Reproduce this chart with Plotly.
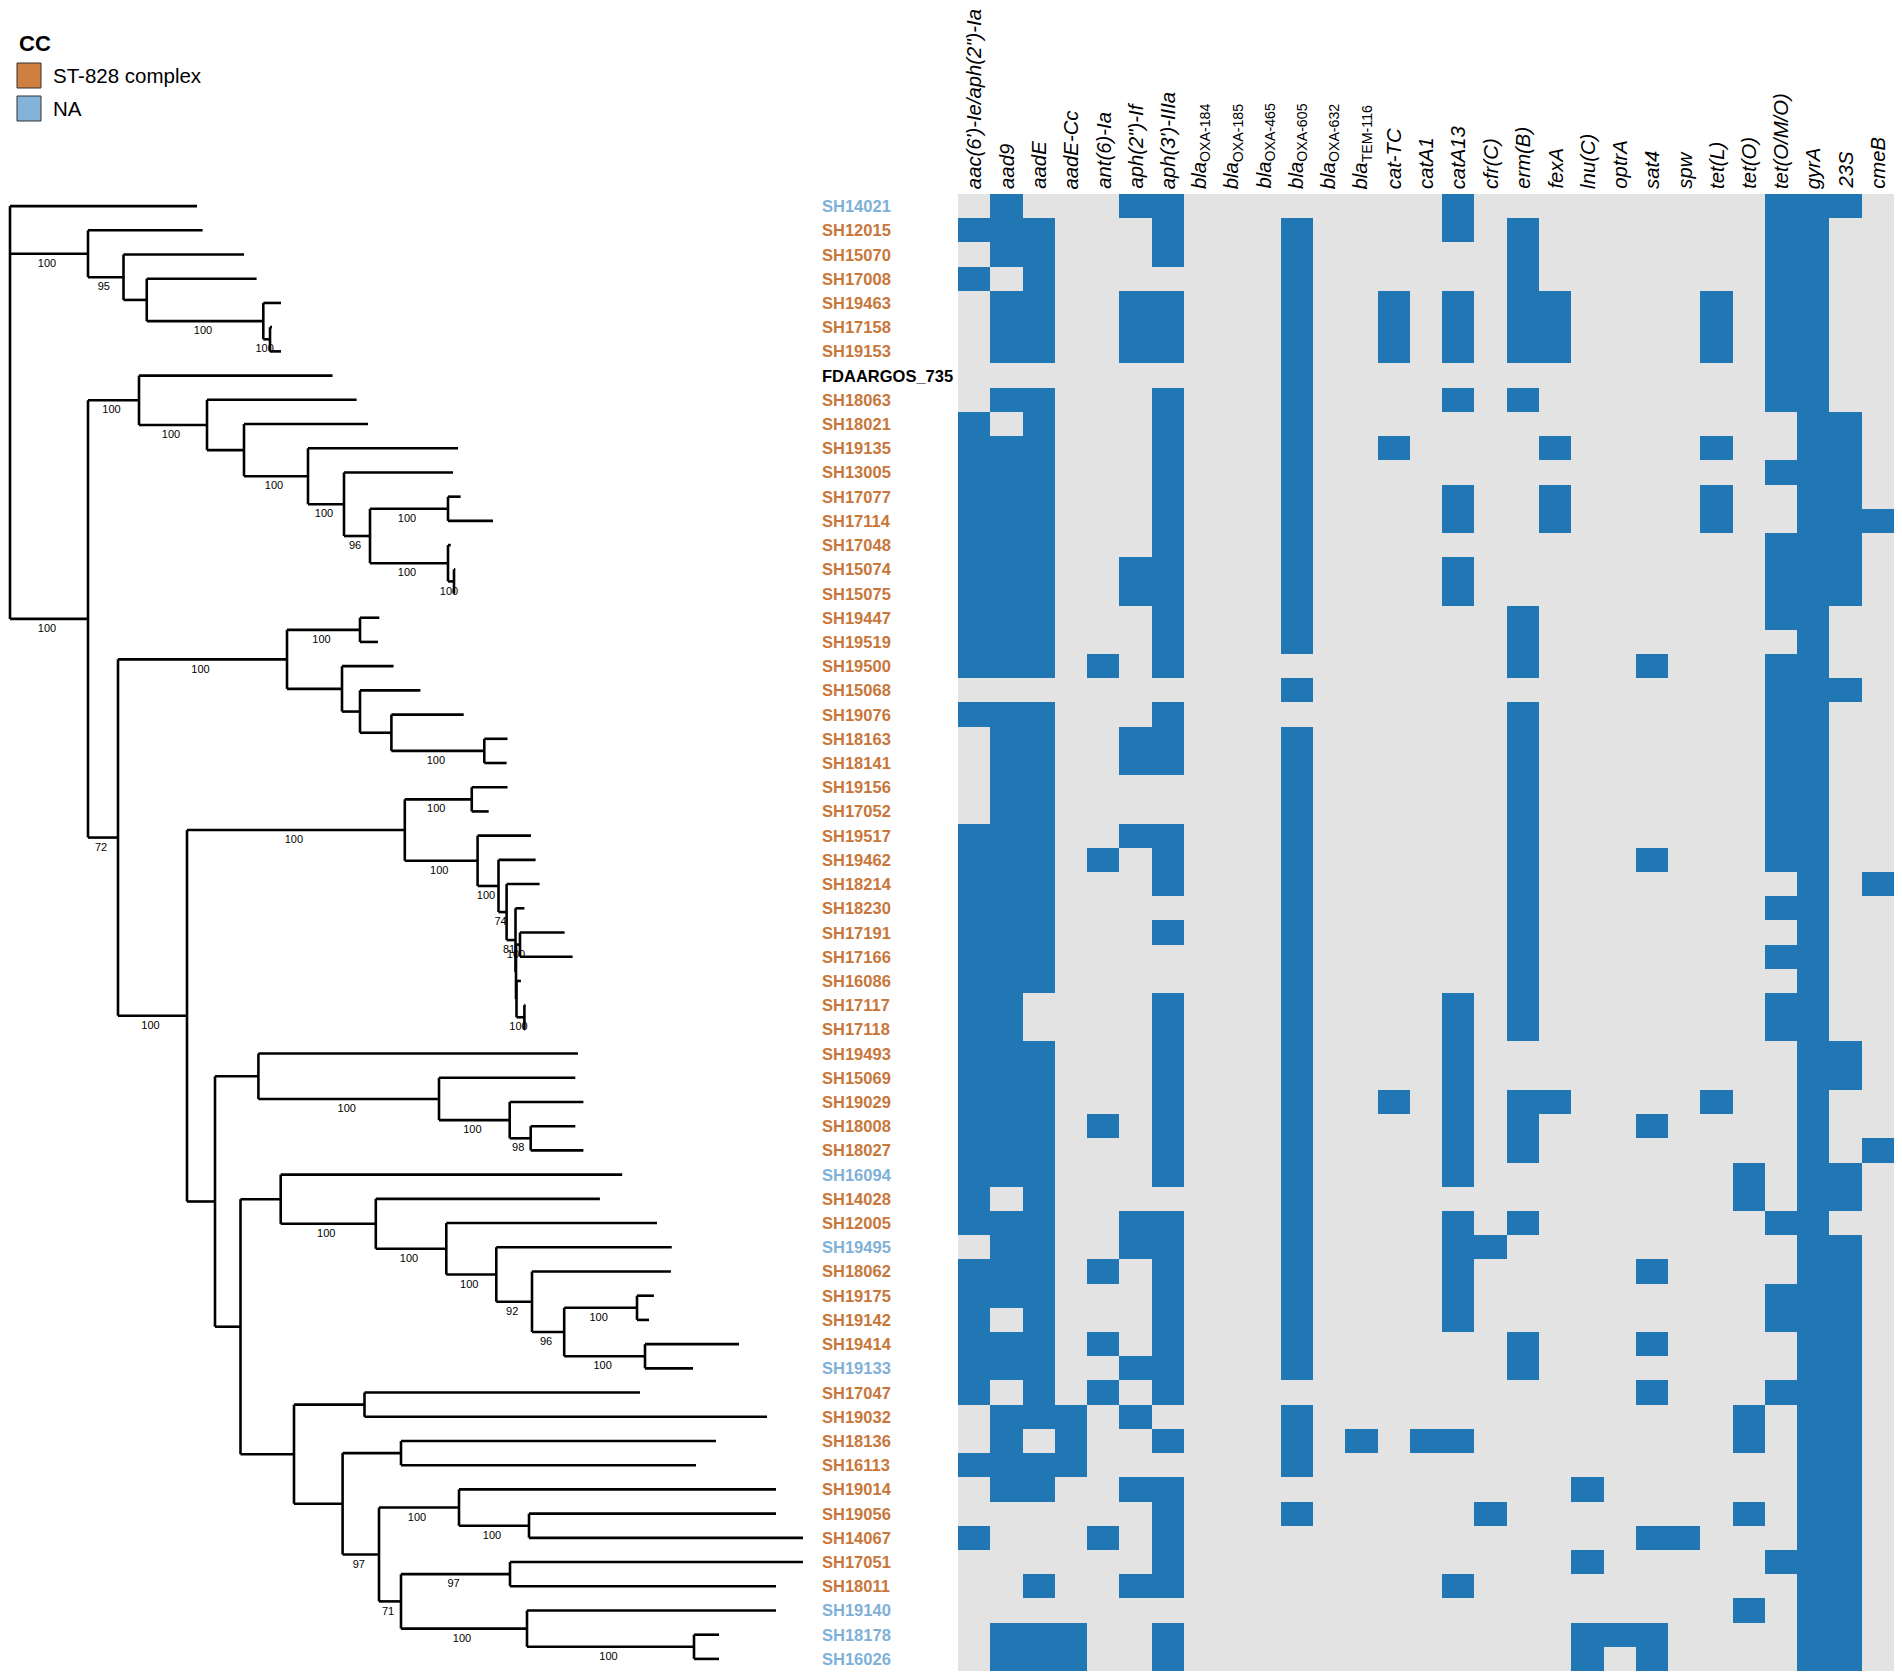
import plotly.graph_objects as go

W, H = 1902, 1679
OFF = 8                      # browser body margin
FW, FH = W - 2 * OFF, H - 2 * OFF

# ---------------- data ----------------
# Phylogeny (branch lengths in arbitrary units, internal labels = bootstrap support)
NEWICK = """
(SH14021:187,
 (SH12015:114.6,(SH15070:120.5,(SH17008:109.85,(SH19463:17.7,(SH17158:2,SH19153:11)100:6.7)100:116.55):23.25)95:35.5)100:78,
 ((FDAARGOS_735:193.5,(SH18063:149.6,(SH18021:124,(SH19135:150,(SH13005:109,((SH17077:12.6,SH17114:45)100:78,(SH17048:2.8,(SH15074:1.2,SH15075:0.5)100:6)100:78)96:26)100:36)100:64):37)100:68)100:51,
  (((SH19447:19.3,SH19519:18)100:73,(SH19500:51.6,(SH15068:60.4,(SH19076:72.3,(SH18163:23.2,SH18141:22.3)100:92.9):31.4):18):55)100:169,
   (((SH19156:35.75,SH17052:16.95)100:66.95,(SH19517:53.4,(SH19462:37.1,(SH18214:33,(SH18230:8.9,((SH17191:44.6,SH17166:52.6)100:4,(SH16086:4.4,(SH17117:1,SH17118:0.6)100:7.9):0.5):0.5)81:8.9)74:8.1)100:20.9)100:72.8)100:217.8,
    ((SH19493:319.6,(SH15069:136.3,(SH19029:73.7,(SH18008:44.6,SH18027:52.7)98:21)100:70.7)100:180.6):43.4,
     ((SH16094:341.5,(SH14028:224.1,(SH12005:210.7,(SH19495:175.45,(SH18062:138.9,((SH19175:16.9,SH19142:12)100:72.8,(SH19414:94,SH19133:48)100:80.8)96:32.2)92:35.7)100:50)100:70.5)100:95.1):40.2,
      ((SH17047:275.5,SH19032:402.5):70.5,
       ((SH18136:315,SH16113:295):58.4,
        ((SH19014:317,(SH19056:247,SH14067:274)100:70)100:80,((SH17051:293,SH18011:266)97:109,(SH19140:249,(SH18178:25,SH16026:25)100:167)100:126)71:22)97:36.4):48.6):53.5):25.5):28)100:69)72:30)100:78);
"""

ISOLATES = ["SH14021", "SH12015", "SH15070", "SH17008", "SH19463", "SH17158", "SH19153",
            "FDAARGOS_735", "SH18063", "SH18021", "SH19135", "SH13005", "SH17077", "SH17114",
            "SH17048", "SH15074", "SH15075", "SH19447", "SH19519", "SH19500", "SH15068",
            "SH19076", "SH18163", "SH18141", "SH19156", "SH17052", "SH19517", "SH19462",
            "SH18214", "SH18230", "SH17191", "SH17166", "SH16086", "SH17117", "SH17118",
            "SH19493", "SH15069", "SH19029", "SH18008", "SH18027", "SH16094", "SH14028",
            "SH12005", "SH19495", "SH18062", "SH19175", "SH19142", "SH19414", "SH19133",
            "SH17047", "SH19032", "SH18136", "SH16113", "SH19014", "SH19056", "SH14067",
            "SH17051", "SH18011", "SH19140", "SH18178", "SH16026"]

NA_ISOLATES = ["SH14021", "SH16094", "SH19495", "SH19133", "SH19140", "SH18178", "SH16026"]
REFERENCE = ["FDAARGOS_735"]

GENE_LABELS = ["<i>aac(6')-Ie/aph(2\")-Ia</i>", "<i>aad9</i>", "<i>aadE</i>", "<i>aadE-Cc</i>",
               "<i>ant(6)-Ia</i>", "<i>aph(2\")-If</i>", "<i>aph(3')-IIIa</i>",
               "<i>bla</i><sub>OXA-184</sub>", "<i>bla</i><sub>OXA-185</sub>",
               "<i>bla</i><sub>OXA-465</sub>", "<i>bla</i><sub>OXA-605</sub>",
               "<i>bla</i><sub>OXA-632</sub>", "<i>bla</i><sub>TEM-116</sub>",
               "<i>cat-TC</i>", "<i>catA1</i>", "<i>catA13</i>", "<i>cfr(C)</i>", "<i>erm(B)</i>",
               "<i>fexA</i>", "<i>lnu(C)</i>", "<i>optrA</i>", "<i>sat4</i>", "<i>spw</i>",
               "<i>tet(L)</i>", "<i>tet(O)</i>", "<i>tet(O/M/O)</i>", "<i>gyrA</i>", "<i>23S</i>",
               "<i>cmeB</i>"]

# presence (1) / absence (0) per isolate, genes in GENE_LABELS order (spaces only for reading)
PROFILE = [
    "0100011 000000 001000 000000 1110",  # SH14021
    "1110001 000100 001010 000000 1100",  # SH12015
    "0110001 000100 000010 000000 1100",  # SH15070
    "1010000 000100 000010 000000 1100",  # SH17008
    "0110011 000100 101011 000010 1100",  # SH19463
    "0110011 000100 101011 000010 1100",  # SH17158
    "0110011 000100 101011 000010 1100",  # SH19153
    "0000000 000100 000000 000000 1100",  # FDAARGOS_735
    "0110001 000100 001010 000000 1100",  # SH18063
    "1010001 000100 000000 000000 0110",  # SH18021
    "1110001 000100 100001 000010 0110",  # SH19135
    "1110001 000100 000000 000000 1110",  # SH13005
    "1110001 000100 001001 000010 0110",  # SH17077
    "1110001 000100 001001 000010 0111",  # SH17114
    "1110001 000100 000000 000000 1110",  # SH17048
    "1110011 000100 001000 000000 1110",  # SH15074
    "1110011 000100 001000 000000 1110",  # SH15075
    "1110001 000100 000010 000000 1100",  # SH19447
    "1110001 000100 000010 000000 0100",  # SH19519
    "1110101 000000 000010 001000 1100",  # SH19500
    "0000000 000100 000000 000000 1110",  # SH15068
    "1110001 000000 000010 000000 1100",  # SH19076
    "0110011 000100 000010 000000 1100",  # SH18163
    "0110011 000100 000010 000000 1100",  # SH18141
    "0110000 000100 000010 000000 1100",  # SH19156
    "0110000 000100 000010 000000 1100",  # SH17052
    "1110011 000100 000010 000000 1100",  # SH19517
    "1110101 000100 000010 001000 1100",  # SH19462
    "1110001 000100 000010 000000 0101",  # SH18214
    "1110000 000100 000010 000000 1100",  # SH18230
    "1110001 000100 000010 000000 0100",  # SH17191
    "1110000 000100 000010 000000 1100",  # SH17166
    "1110000 000100 000010 000000 0100",  # SH16086
    "1100001 000100 001010 000000 1100",  # SH17117
    "1100001 000100 001010 000000 1100",  # SH17118
    "1110001 000100 001000 000000 0110",  # SH19493
    "1110001 000100 001000 000000 0110",  # SH15069
    "1110001 000100 101011 000010 0100",  # SH19029
    "1110101 000100 001010 001000 0100",  # SH18008
    "1110001 000100 001010 000000 0101",  # SH18027
    "1110001 000100 001000 000001 0110",  # SH16094
    "1010000 000100 000000 000001 0110",  # SH14028
    "1110011 000100 001010 000000 1100",  # SH12005
    "0110011 000100 001100 000000 0110",  # SH19495
    "1110101 000100 001000 001000 0110",  # SH18062
    "1110001 000100 001000 000000 1110",  # SH19175
    "1010001 000100 001000 000000 1110",  # SH19142
    "1110101 000100 000010 001000 0110",  # SH19414
    "1110011 000100 000010 000000 0110",  # SH19133
    "1010101 000000 000000 001000 1110",  # SH17047
    "0111010 000100 000000 000001 0110",  # SH19032
    "0101001 000101 011000 000001 0110",  # SH18136
    "1111000 000100 000000 000000 0110",  # SH16113
    "0110011 000000 000000 100000 0110",  # SH19014
    "0000001 000100 000100 000001 0110",  # SH19056
    "1000101 000000 000000 001100 0110",  # SH14067
    "0000001 000000 000000 100000 1110",  # SH17051
    "0010011 000000 001000 000000 0110",  # SH18011
    "0000000 000000 000000 000001 0110",  # SH19140
    "0111001 000000 000000 111000 0110",  # SH18178
    "0111001 000000 000000 101000 0110",  # SH16026
]

CC_NAMES = ["ST-828 complex", "NA"]
CC_COLORS = ["#cf8040", "#84b3d9"]
LABEL_COLORS = {"ST-828 complex": "#c8763a", "NA": "#7fb0d8", "ref": "#000000"}
ABSENT_COLOR = "#e3e3e3"
PRESENT_COLOR = "#2176b4"

# ---------------- tree parsing / layout ----------------
def parse_newick(text):
    s = "".join(text.split())
    pos = 0

    def node():
        nonlocal pos
        n = {"children": [], "name": "", "length": 0.0}
        if s[pos] == "(":
            pos += 1
            while True:
                n["children"].append(node())
                if s[pos] == ",":
                    pos += 1
                    continue
                pos += 1  # ')'
                break
        st = pos
        while pos < len(s) and s[pos] not in ",():;":
            pos += 1
        n["name"] = s[st:pos]
        if pos < len(s) and s[pos] == ":":
            pos += 1
            st = pos
            while pos < len(s) and s[pos] not in ",();":
                pos += 1
            n["length"] = float(s[st:pos])
        return n

    return node()


tree = parse_newick(NEWICK)
leaf_order = []


def layout(n, x0):
    n["x"] = x0 + n["length"]
    if not n["children"]:
        n["y"] = len(leaf_order)
        leaf_order.append(n["name"])
    else:
        for c in n["children"]:
            layout(c, n["x"])
        n["y"] = sum(c["y"] for c in n["children"]) / len(n["children"])


layout(tree, 0.0)
assert leaf_order == ISOLATES

lx, ly = [], []
bx, by, bt = [], [], []


def draw(n, px):
    if px is not None:
        lx.extend([px, n["x"], None])
        ly.extend([n["y"], n["y"], None])
        if n["children"] and n["name"]:
            bx.append((px + n["x"]) / 2 - 2)
            by.append(n["y"] + 0.43)
            bt.append(n["name"])
    if n["children"]:
        ys = [c["y"] for c in n["children"]]
        lx.extend([n["x"], n["x"], None])
        ly.extend([min(ys), max(ys), None])
        for c in n["children"]:
            draw(c, n["x"])


draw(tree, None)

# ---------------- figure ----------------
def pxx(x):
    return (x - OFF) / FW


def pxy(y):
    return 1 - (y - OFF) / FH


fig = go.Figure()

# pixel geometry (page pixels)
HM_L, HM_R, HM_T, HM_B = 958, 1894, 194, 1671
TREE_ROOT_PX = 10
LABEL_X = 820

z = [[int(ch) for ch in row.replace(" ", "")] for row in PROFILE]

fig.add_trace(go.Heatmap(
    z=z, x=list(range(len(GENE_LABELS))), y=list(range(len(ISOLATES))),
    colorscale=[[0, ABSENT_COLOR], [0.5, ABSENT_COLOR], [0.5, PRESENT_COLOR], [1, PRESENT_COLOR]],
    zmin=0, zmax=1, showscale=False, hoverinfo="skip",
    xaxis="x", yaxis="y",
))

fig.add_trace(go.Scatter(
    x=lx, y=ly, mode="lines", line=dict(color="black", width=2.6),
    hoverinfo="skip", showlegend=False, xaxis="x2", yaxis="y",
))

fig.add_trace(go.Scatter(
    x=bx, y=by, text=bt, mode="text", textposition="middle center",
    textfont=dict(family="Liberation Sans, Arial, sans-serif", size=11, color="black"),
    hoverinfo="skip", showlegend=False, xaxis="x2", yaxis="y",
))

annotations = []
for i, name in enumerate(ISOLATES):
    grp = "ref" if name in REFERENCE else ("NA" if name in NA_ISOLATES else "ST-828 complex")
    annotations.append(dict(
        x=pxx(LABEL_X), xref="paper", y=i, yref="y", text=name, showarrow=False,
        xanchor="left", yanchor="middle",
        font=dict(family="Liberation Sans, Arial, sans-serif", size=16.5, weight="bold",
                  color=LABEL_COLORS[grp]),
    ))

for j, g in enumerate(GENE_LABELS):
    annotations.append(dict(
        x=j, xref="x", y=pxy(191), yref="paper", text=g, showarrow=False,
        textangle=-90, xanchor="center", yanchor="bottom",
        font=dict(family="Liberation Sans, Arial, sans-serif", size=20.3, color="black"),
    ))

# legend
annotations.append(dict(x=pxx(17), y=pxy(44), xref="paper", yref="paper", text="<b>CC</b>",
                        showarrow=False, xanchor="left", yanchor="middle",
                        font=dict(family="Liberation Sans, Arial, sans-serif", size=22, color="black")))
shapes = []
for k, (nm, col) in enumerate(zip(CC_NAMES, CC_COLORS)):
    top = 63 + k * 33
    shapes.append(dict(type="rect", xref="paper", yref="paper",
                       x0=pxx(17), x1=pxx(41), y0=pxy(top + 25), y1=pxy(top),
                       fillcolor=col, line=dict(color="#333333", width=1)))
    annotations.append(dict(x=pxx(51), y=pxy(top + 12.5), xref="paper", yref="paper", text=nm,
                            showarrow=False, xanchor="left", yanchor="middle",
                            font=dict(family="Liberation Sans, Arial, sans-serif", size=20.5,
                                      color="black")))

n_rows = len(ISOLATES)
fig.update_layout(
    width=FW, height=FH, autosize=False,
    margin=dict(l=0, r=0, t=0, b=0),
    paper_bgcolor="white", plot_bgcolor="white",
    showlegend=False,
    xaxis=dict(domain=[pxx(HM_L), min(1.0, pxx(HM_R))], range=[-0.5, len(GENE_LABELS) - 0.5],
               visible=False, fixedrange=True),
    xaxis2=dict(domain=[0, pxx(HM_L)], range=[OFF - TREE_ROOT_PX, HM_L - TREE_ROOT_PX],
                visible=False, anchor="y", fixedrange=True),
    yaxis=dict(domain=[max(0.0, pxy(HM_B)), pxy(HM_T)], range=[n_rows - 0.5, -0.5],
               visible=False, fixedrange=True),
    annotations=annotations,
    shapes=shapes,
)

fig.write_html("out.html")
